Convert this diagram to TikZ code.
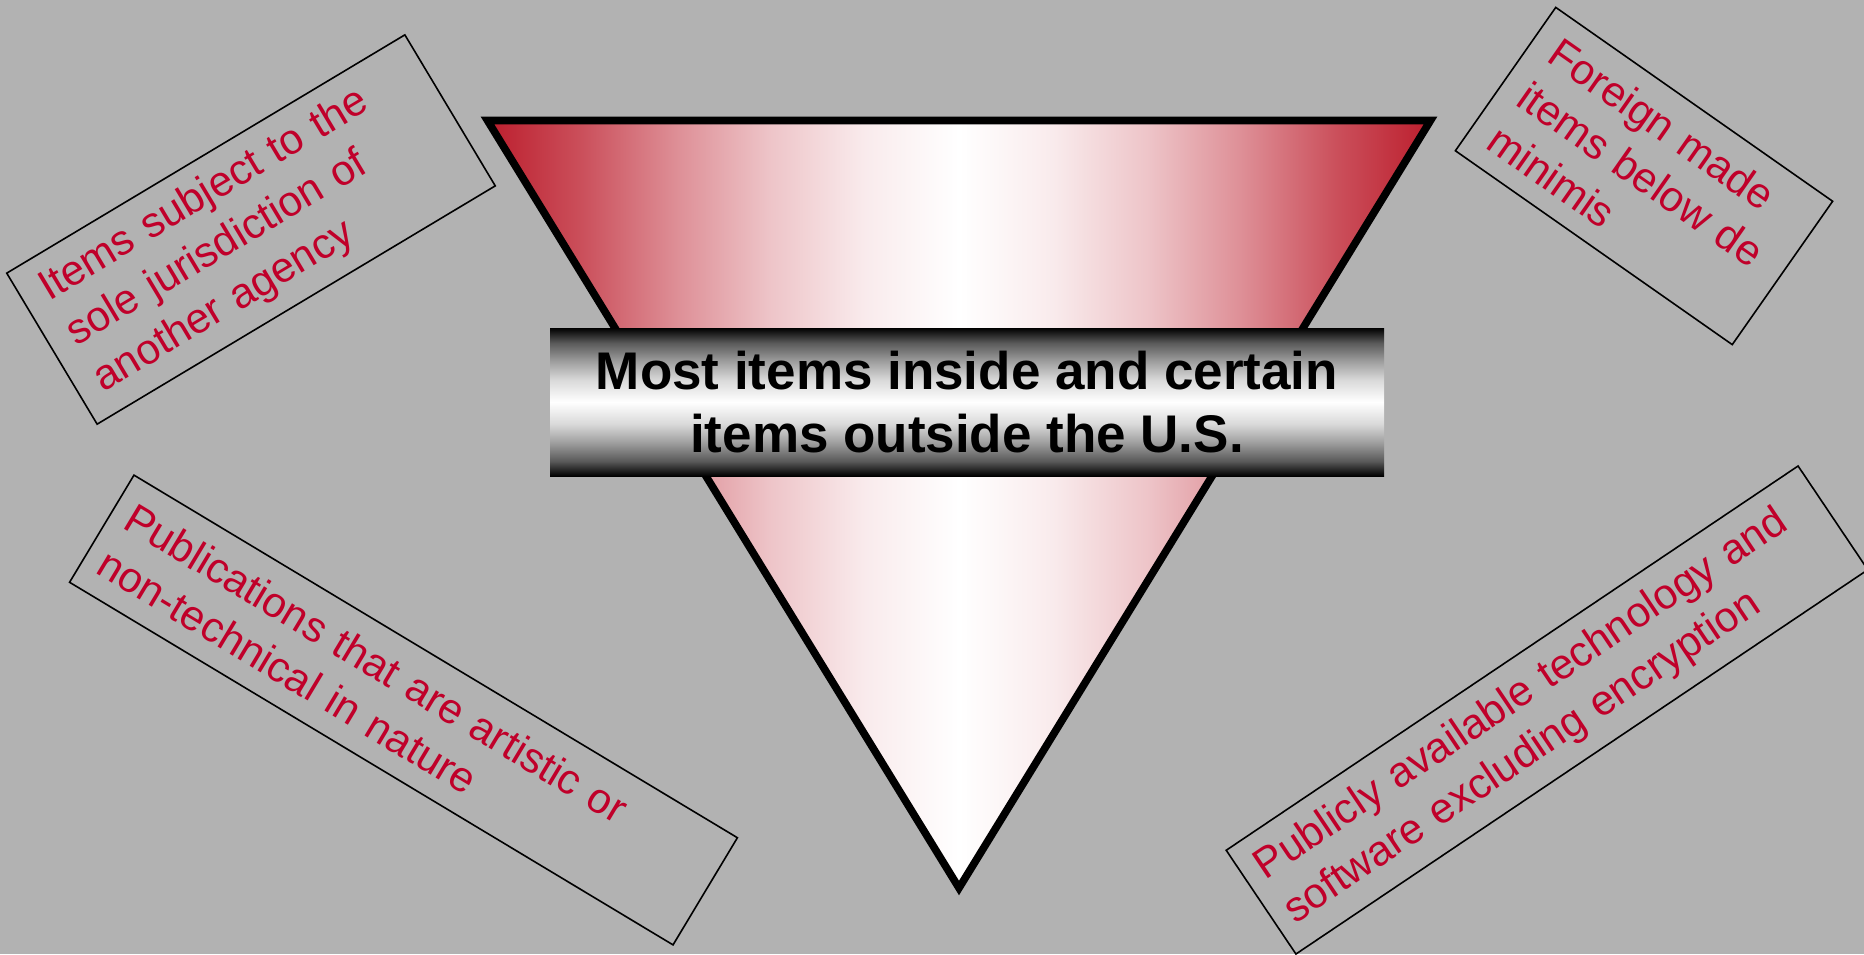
\documentclass[tikz,border=0pt]{standalone}
\usepackage{fontspec}
\setmainfont{Liberation Sans}
\definecolor{bg}{RGB}{178,178,178}
\definecolor{tred}{RGB}{188,30,45}
\definecolor{txtred}{RGB}{192,0,42}
\colorlet{trA}{tred!78!white}
\colorlet{trB}{tred!50!white}
\colorlet{trC}{tred!26!white}
\colorlet{trD}{tred!9!white}
\colorlet{gkA}{black!65!white}
\colorlet{gkB}{black!38!white}
\colorlet{gkC}{black!15!white}
\pgfdeclarehorizontalshading{trigrad}{100bp}{color(0bp)=(tred); color(25bp)=(tred); color(30bp)=(trA); color(35bp)=(trB); color(40bp)=(trC); color(45bp)=(trD); color(50bp)=(white); color(55bp)=(trD); color(60bp)=(trC); color(65bp)=(trB); color(70bp)=(trA); color(75bp)=(tred); color(100bp)=(tred)}
\pgfdeclareverticalshading{bangrad}{100bp}{color(0bp)=(black); color(25bp)=(black); color(30bp)=(gkA); color(36.25bp)=(gkB); color(42.5bp)=(gkC); color(50bp)=(white); color(57.5bp)=(gkC); color(63.75bp)=(gkB); color(70bp)=(gkA); color(75bp)=(black); color(100bp)=(black)}
\tikzset{
  lbl/.style={draw=black, line width=0.8pt, text=txtred,
    font=\fontsize{21.2}{26.5}\selectfont, align=left,
    inner xsep=0pt, inner ysep=0pt, anchor=center},
  tri/.style={shading=trigrad, draw=black, line width=3.8pt, line join=miter},
  banner/.style={shading=bangrad},
  bantext/.style={font=\bfseries\fontsize{26.5}{31.5}\selectfont, align=center, text=black}
}
\begin{document}
\begin{tikzpicture}[x=0.5pt,y=-0.5pt]
\useasboundingbox (0,0) rectangle (1864,954);
\fill[bg] (0,0) rectangle (1864,954);
% triangle
\coordinate (tl) at (487.5,120.5);
\coordinate (tr) at (1430.5,120.5);
\coordinate (bt) at (959,888);
\shadedraw[tri] (tl) -- (tr) -- (bt) -- cycle;
% banner
\coordinate (bnw) at (550,328);
\coordinate (bse) at (1384,476);
\shade[banner] (bnw) rectangle (bse);
\node[bantext] (main) at (967,402) {Most items inside and certain\\items outside the U.S.};
% boxes
\node[lbl, rotate=30.9, text width=232pt, minimum height=88pt] (b1) at (251,229.5)
  {\hspace*{11pt}Items subject to the\\\hspace*{11pt}sole jurisdiction of\\\hspace*{11pt}another agency};
\node[lbl, rotate=-35, text width=169pt, minimum height=87.5pt] (b2) at (1644,176)
  {\hspace*{11pt}Foreign made\\\hspace*{11pt}items below de\\\hspace*{11pt}minimis};
\node[lbl, rotate=-31, text width=352pt, minimum height=62.5pt] (b3) at (403.5,710)
  {\hspace*{8pt}Publications that are artistic or\\\hspace*{8pt}non-technical in nature};
\node[lbl, rotate=33.9, text width=344.5pt, minimum height=62.5pt] (b4) at (1547,710)
  {\hspace*{8pt}Publicly available technology and\\\hspace*{8pt}software excluding encryption};
\end{tikzpicture}
\end{document}
